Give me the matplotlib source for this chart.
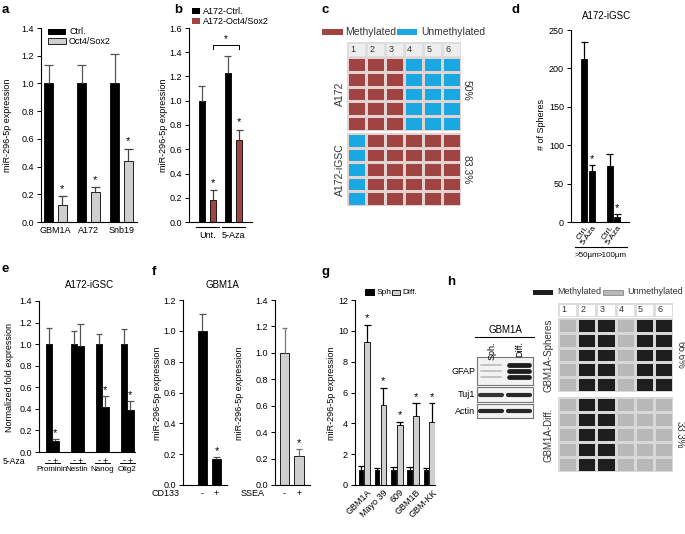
import numpy as np
import matplotlib
matplotlib.use('Agg')
import matplotlib.pyplot as plt
from matplotlib.patches import Rectangle
from matplotlib.colors import ListedColormap

plt.rcParams['font.family'] = ['Liberation Sans', 'DejaVu Sans']
plt.rcParams['font.size'] = 6.5

# ---- data ----
a_groups = ['GBM1A', 'A172', 'Snb19']
a_ctrl = [1.0, 1.0, 1.0]
a_ctrl_err = [0.13, 0.13, 0.21]
a_oct = [0.12, 0.22, 0.44]
a_oct_err = [0.065, 0.03, 0.09]

b_groups = ['Unt.', '5-Aza']
b_ctrl = [1.0, 1.23]
b_ctrl_err = [0.12, 0.14]
b_oct = [0.18, 0.68]
b_oct_err = [0.08, 0.08]

c_cols = ['1', '2', '3', '4', '5', '6']
c_a172 = [[1, 1, 1, 0, 0, 0]] * 5
c_igsc = [[0, 1, 1, 1, 1, 1]] * 5

d_groups = ['>50\u00b5m', '>100\u00b5m']
d_ticks = ['Ctrl.', '5-Aza']
d_ctrl = [212, 73]
d_ctrl_err = [23, 15]
d_aza = [66, 7]
d_aza_err = [8, 3]

e_genes = ['Prominin', 'Nestin', 'Nanog', 'Olig2']
e_minus = [1.0, 1.0, 1.0, 1.0]
e_minus_err = [0.15, 0.12, 0.09, 0.14]
e_plus = [0.10, 0.98, 0.42, 0.39]
e_plus_err = [0.02, 0.21, 0.10, 0.08]

f_cd133 = [1.0, 0.17]
f_cd133_err = [0.11, 0.01]
f_ssea = [1.0, 0.22]
f_ssea_err = [0.19, 0.05]

g_lines = ['GBM1A', 'Mayo 39', '609', 'GBM1B', 'GBM-KK']
g_sph = [1.0, 1.0, 1.0, 1.0, 1.0]
g_sph_err = [0.25, 0.12, 0.15, 0.15, 0.12]
g_diff = [9.3, 5.2, 3.9, 4.5, 4.1]
g_diff_err = [1.1, 1.1, 0.2, 0.8, 1.2]

h_blots = ['GFAP', 'Tuj1', 'Actin']
h_lanes = ['Sph.', 'Diff.']
h_band_int = [[0.25, 0.95], [0.85, 0.9], [0.9, 0.9]]
h_sph = [[0, 1, 1, 0, 1, 1]] * 5
h_diff = [[0, 1, 1, 0, 0, 0]] * 5

W, H = 685, 534
fig = plt.figure(figsize=(W / 100, H / 100), dpi=100)

BLACK = '#000000'
GRAY = '#cfcfcf'
RED = '#a04343'
BLUE = '#1aa8e2'
ECOL = '#555555'


def box(x0, y0, x1, y1):
    return fig.add_axes([x0 / W, 1 - y1 / H, (x1 - x0) / W, (y1 - y0) / H])


def ftext(x, y, s, **kw):
    fig.text(x / W, 1 - y / H, s, **kw)


def frect(x, y, w, h, color, ec='none'):
    fig.add_artist(Rectangle((x / W, 1 - (y + h) / H), w / W, h / H,
                             transform=fig.transFigure, fc=color, ec=ec, lw=0.6))


def style(ax):
    for s in ['top', 'right']:
        ax.spines[s].set_visible(False)
    for s in ['left', 'bottom']:
        ax.spines[s].set_linewidth(0.8)
    ax.tick_params(axis='y', direction='out', length=3, width=0.7, pad=2, labelsize=6.5)
    ax.tick_params(axis='x', length=0, pad=3, labelsize=6.5)


def bars(ax, x, y, err, w, fc, ec=BLACK, ecol=ECOL, cap=None, stars=False, star_pad=0.02):
    x = np.asarray(x, float)
    y = np.asarray(y, float)
    err = np.asarray(err, float)
    ax.bar(x, y, w, color=fc, edgecolor=ec, linewidth=0.6, zorder=2)
    cw = w * 0.5 if cap is None else cap
    ax.vlines(x, y, y + err, color=ecol, lw=0.9, zorder=3)
    ax.hlines(y + err, x - cw, x + cw, color=ecol, lw=0.9, zorder=3)
    if stars:
        for xi, top in zip(x, y + err):
            ax.text(xi, top + star_pad, '*', ha='center', va='bottom', fontsize=8)


def letter(x, y, s):
    ftext(x, y, s, fontsize=9.5, fontweight='bold', va='center', ha='left')


# ---------------- a ----------------
ax = box(41, 28, 137, 222)
style(ax)
xa = np.arange(len(a_groups))
bars(ax, xa - 0.21, a_ctrl, a_ctrl_err, 0.28, BLACK, cap=0.14)
bars(ax, xa + 0.21, a_oct, a_oct_err, 0.28, GRAY, ecol='#444444', cap=0.14, stars=True)
ax.set_xlim(-0.44, 2.47)
ax.set_ylim(0, 1.4)
ax.set_yticks(np.arange(0, 1.41, 0.2))
ax.set_yticklabels(['%.1f' % v for v in np.arange(0, 1.41, 0.2)])
ax.set_xticks(xa)
ax.set_xticklabels(a_groups)
letter(2, 10, 'a')
ftext(8, 125, 'miR-296-5p expression', rotation=90, va='center', ha='center')
frect(48, 29, 18, 6, BLACK)
ftext(69, 32, 'Ctrl.', va='center')
frect(48, 38, 18, 6, GRAY, ec=BLACK)
ftext(69, 41, 'Oct4/Sox2', va='center')

# ---------------- b ----------------
ax = box(189, 28, 252, 222)
style(ax)
xb = np.arange(len(b_groups))
bars(ax, xb - 0.223, b_ctrl, b_ctrl_err, 0.23, BLACK, cap=0.14)
bars(ax, xb + 0.223, b_oct, b_oct_err, 0.23, RED, ecol='#444444', cap=0.14, stars=True)
ax.set_xlim(-0.72, 1.72)
ax.set_ylim(0, 1.6)
ax.set_yticks(np.arange(0, 1.61, 0.2))
ax.set_yticklabels(['%.1f' % v for v in np.arange(0, 1.61, 0.2)])
ax.set_xticks([])
tr = ax.get_xaxis_transform()
for i, g in enumerate(b_groups):
    ax.plot([i - 0.45, i + 0.45], [-0.028, -0.028], color=BLACK, lw=0.8, transform=tr, clip_on=False)
    ax.text(i, -0.045, g, transform=tr, ha='center', va='top', fontsize=6.5)
# bracket between the Oct4/Sox2 bars
yb = 1.46
ax.plot([0.223, 0.223, 1.223, 1.223], [yb - 0.03, yb, yb, yb - 0.03], color=BLACK, lw=0.7)
ax.text(0.723, yb + 0.01, '*', ha='center', va='bottom', fontsize=7)
letter(174, 10, 'b')
ftext(163, 125, 'miR-296-5p expression', rotation=90, va='center', ha='center')
frect(192, 8, 8, 6, BLACK)
ftext(203, 11, 'A172-Ctrl.', va='center')
frect(192, 18, 8, 6, RED)
ftext(203, 21, 'A172-Oct4/Sox2', va='center')

# ---------------- c ----------------
letter(322, 10, 'c')
frect(322, 29, 21, 6, RED)
ftext(345, 32, 'Methylated', va='center', fontsize=7.5, color='#333333')
frect(397, 29, 20, 6, BLUE)
ftext(421, 32, 'Unmethylated', va='center', fontsize=7.5, color='#333333')
cmap_c = ListedColormap([BLUE, RED])
axh = box(347, 42, 461, 57)
axh.pcolormesh(np.zeros((1, 6)), cmap=ListedColormap(['#eeeeee']), edgecolors='#dddddd', linewidth=1)
for j, cl in enumerate(c_cols):
    axh.text(j + 0.3, 0.5, cl, ha='center', va='center', fontsize=6.5, color='#333333')
axh.set_axis_off()
for (y0, y1, mat, lab, pct, yc) in [(57, 131, c_a172, 'A172', '50%', 94),
                                     (133, 206, c_igsc, 'A172-iGSC', '83.3%', 170)]:
    axc = box(347, y0, 461, y1)
    axc.pcolormesh(np.array(mat), cmap=cmap_c, vmin=0, vmax=1, edgecolors='#e3d2d2', linewidth=1)
    axc.set_ylim(5, 0)
    axc.set_axis_off()
    ftext(340, yc, lab, rotation=90, va='center', ha='center', fontsize=7.5, color='#333333')
    ftext(467, yc - 4 if pct == '50%' else yc, pct, rotation=-90, va='center', ha='center',
          fontsize=7.5, color='#333333')

# ---------------- d ----------------
ax = box(571, 30, 629, 222)
style(ax)
xd = np.arange(len(d_groups))
bars(ax, xd - 0.15, d_ctrl, d_ctrl_err, 0.235, BLACK, ecol=BLACK, cap=0.13)
bars(ax, xd + 0.15, d_aza, d_aza_err, 0.235, BLACK, ecol=BLACK, cap=0.13, stars=True, star_pad=2)
ax.set_xlim(-0.67, 1.61)
ax.set_ylim(0, 250)
ax.set_yticks(np.arange(0, 251, 50))
ax.set_xticks(np.concatenate([xd - 0.15, xd + 0.15]))
ax.set_xticklabels(d_ticks[:1] * 2 + d_ticks[1:] * 2, rotation=55, ha='right',
                   rotation_mode='anchor', fontsize=6)
ax.tick_params(axis='x', pad=1.5)
tr = ax.get_xaxis_transform()
for i, g in enumerate(d_groups):
    ax.plot([i - 0.5, i + 0.55], [-0.13, -0.13], color=BLACK, lw=0.8, transform=tr, clip_on=False)
    ax.text(i - 0.05, -0.155, g, transform=tr, ha='center', va='top', fontsize=5.8)
letter(512, 10, 'd')
ftext(607, 16, 'A172-iGSC', ha='center', va='center', fontsize=7)
ftext(542, 125, '# of Spheres', rotation=90, va='center', ha='center')

# ---------------- e ----------------
ax = box(39, 301, 135, 452)
style(ax)
xe = np.arange(len(e_genes))
bars(ax, xe - 0.13, e_minus, e_minus_err, 0.26, BLACK, ecol='#555555', cap=0.13)
bars(ax, xe + 0.13, e_plus, e_plus_err, 0.26, BLACK, ecol='#555555', cap=0.13)
for i in [0, 2, 3]:
    ax.text(i + 0.13, e_plus[i] + e_plus_err[i] + 0.01, '*', ha='center', va='bottom', fontsize=8)
ax.set_xlim(-0.52, 3.32)
ax.set_ylim(0, 1.4)
ax.set_yticks(np.arange(0, 1.41, 0.2))
ax.set_yticklabels(['%.1f' % v for v in np.arange(0, 1.41, 0.2)])
ax.set_xticks([])
tr = ax.get_xaxis_transform()
for i, g in enumerate(e_genes):
    ax.text(i - 0.13, -0.03, '-', transform=tr, ha='center', va='top', fontsize=6.5)
    ax.text(i + 0.13, -0.03, '+', transform=tr, ha='center', va='top', fontsize=6.5)
    ax.plot([i - 0.3, i + 0.3], [-0.075, -0.075], color=BLACK, lw=0.7, transform=tr, clip_on=False)
    ax.text(i, -0.095, g, transform=tr, ha='center', va='top', fontsize=5.8)
ftext(3, 462, '5-Aza', va='center', ha='left', fontsize=6.2)
letter(2, 269, 'e')
ftext(90, 285, 'A172-iGSC', ha='center', va='center', fontsize=7)
ftext(10, 377, 'Normalized fold expression', rotation=90, va='center', ha='center')

# ---------------- f ----------------
ax = box(183, 300, 227, 485)
style(ax)
bars(ax, [0, 1], f_cd133, f_cd133_err, 0.64, BLACK, ecol='#555555', cap=0.25)
ax.text(1, f_cd133[1] + f_cd133_err[1] + 0.01, '*', ha='center', va='bottom', fontsize=8)
ax.set_xlim(-1.39, 1.75)
ax.set_ylim(0, 1.2)
ax.set_yticks(np.arange(0, 1.21, 0.2))
ax.set_yticklabels(['%.1f' % v for v in np.arange(0, 1.21, 0.2)])
ax.set_xticks([0, 1])
ax.set_xticklabels(['-', '+'])
ftext(152, 494, 'CD133', va='center', ha='left')
letter(152, 272, 'f')
ftext(222, 285, 'GBM1A', ha='center', va='center', fontsize=7)
ftext(157, 393, 'miR-296-5p expression', rotation=90, va='center', ha='center')

ax = box(275, 300, 310, 485)
style(ax)
bars(ax, [0, 1], f_ssea, f_ssea_err, 0.65, GRAY, ecol='#777777', cap=0.2)
ax.text(1, f_ssea[1] + f_ssea_err[1] + 0.01, '*', ha='center', va='bottom', fontsize=8)
ax.set_xlim(-0.66, 1.76)
ax.set_ylim(0, 1.4)
ax.set_yticks(np.arange(0, 1.41, 0.2))
ax.set_yticklabels(['%.1f' % v for v in np.arange(0, 1.41, 0.2)])
ax.set_xticks([0, 1])
ax.set_xticklabels(['-', '+'])
ftext(241, 494, 'SSEA', va='center', ha='left')
ftext(240, 393, 'miR-296-5p expression', rotation=90, va='center', ha='center')

# ---------------- g ----------------
ax = box(355, 300, 435, 485)
style(ax)
xg = np.arange(len(g_lines))
bars(ax, xg - 0.19, g_sph, g_sph_err, 0.28, BLACK, ecol=BLACK, cap=0.2)
bars(ax, xg + 0.2, g_diff, g_diff_err, 0.36, GRAY, ecol=BLACK, cap=0.22, stars=True, star_pad=0.1)
ax.set_xlim(-0.55, 4.37)
ax.set_ylim(0, 12)
ax.set_yticks(np.arange(0, 13, 2))
ax.set_xticks(xg + 0.2)
ax.set_xticklabels(g_lines, rotation=45, ha='right', rotation_mode='anchor')
ax.tick_params(axis='x', pad=2)
letter(322, 272, 'g')
ftext(332, 393, 'miR-296-5p expression', rotation=90, va='center', ha='center')
frect(365, 289, 10, 7, BLACK)
ftext(377, 293, 'Sph.', va='center', fontsize=6)
frect(392, 290, 8, 5, GRAY, ec=BLACK)
ftext(402, 293, 'Diff.', va='center', fontsize=6)

# ---------------- h ----------------
letter(447, 282, 'h')
ftext(505, 330, 'GBM1A', ha='center', va='center', fontsize=7)
fig.add_artist(plt.Line2D([475 / W, 534 / W], [1 - 337 / H, 1 - 337 / H], color=BLACK, lw=0.8))
for k, ln in enumerate(h_lanes):
    ftext(492 + 28 * k, 341, ln, rotation=90, ha='center', va='top', fontsize=6.5)
blot_y = [(357, 385), (387, 402), (404, 418)]
for (y0, y1), name, ints in zip(blot_y, h_blots, h_band_int):
    axb = box(477, y0, 533, y1)
    axb.set_facecolor('#f2f2f2')
    axb.set_xlim(0, 2)
    axb.set_ylim(0, 1)
    axb.set_xticks([])
    axb.set_yticks([])
    for s in axb.spines.values():
        s.set_color('#777777')
        s.set_linewidth(0.8)
    for lane, it in enumerate(ints):
        if name == 'GFAP':
            for yy in [0.72, 0.5, 0.3]:
                axb.plot([lane + 0.15, lane + 0.85], [yy, yy], color='#111111',
                         lw=3.2 * it + 0.4, alpha=it, solid_capstyle='round')
        else:
            axb.plot([lane + 0.12, lane + 0.88], [0.5, 0.5], color='#111111',
                     lw=3.0, alpha=it, solid_capstyle='round')
    ftext(475, (y0 + y1) / 2, name, ha='right', va='center', fontsize=6.5)

frect(533, 290, 20, 5, '#1e1e1e')
ftext(557, 292, 'Methylated', va='center', fontsize=6.5, color='#333333')
frect(603, 290, 20, 5, '#b8b8b8', ec='#888888')
ftext(627, 292, 'Unmethylated', va='center', fontsize=6.5, color='#333333')
cmap_h = ListedColormap(['#b8b8b8', '#1e1e1e'])
axh = box(558, 303, 673, 317)
axh.pcolormesh(np.zeros((1, 6)), cmap=ListedColormap(['#ffffff']), edgecolors='#dddddd', linewidth=1)
for j, cl in enumerate(c_cols):
    axh.text(j + 0.3, 0.5, cl, ha='center', va='center', fontsize=6.5, color='#333333')
axh.set_axis_off()
for (y0, y1, mat, lab, pct) in [(318, 392, h_sph, 'GBM1A-Spheres', '66.6%'),
                                (397, 472, h_diff, 'GBM1A-Diff.', '33.3%')]:
    axc = box(558, y0, 673, y1)
    axc.pcolormesh(np.array(mat), cmap=cmap_h, vmin=0, vmax=1, edgecolors='#d8d8d8', linewidth=1)
    axc.set_ylim(5, 0)
    axc.set_axis_off()
    ftext(549, (y0 + y1) / 2, lab, rotation=90, va='center', ha='center', fontsize=7, color='#333333')
    ftext(680, (y0 + y1) / 2, pct, rotation=-90, va='center', ha='center', fontsize=7, color='#333333')

fig.savefig('out.png', dpi=100)
